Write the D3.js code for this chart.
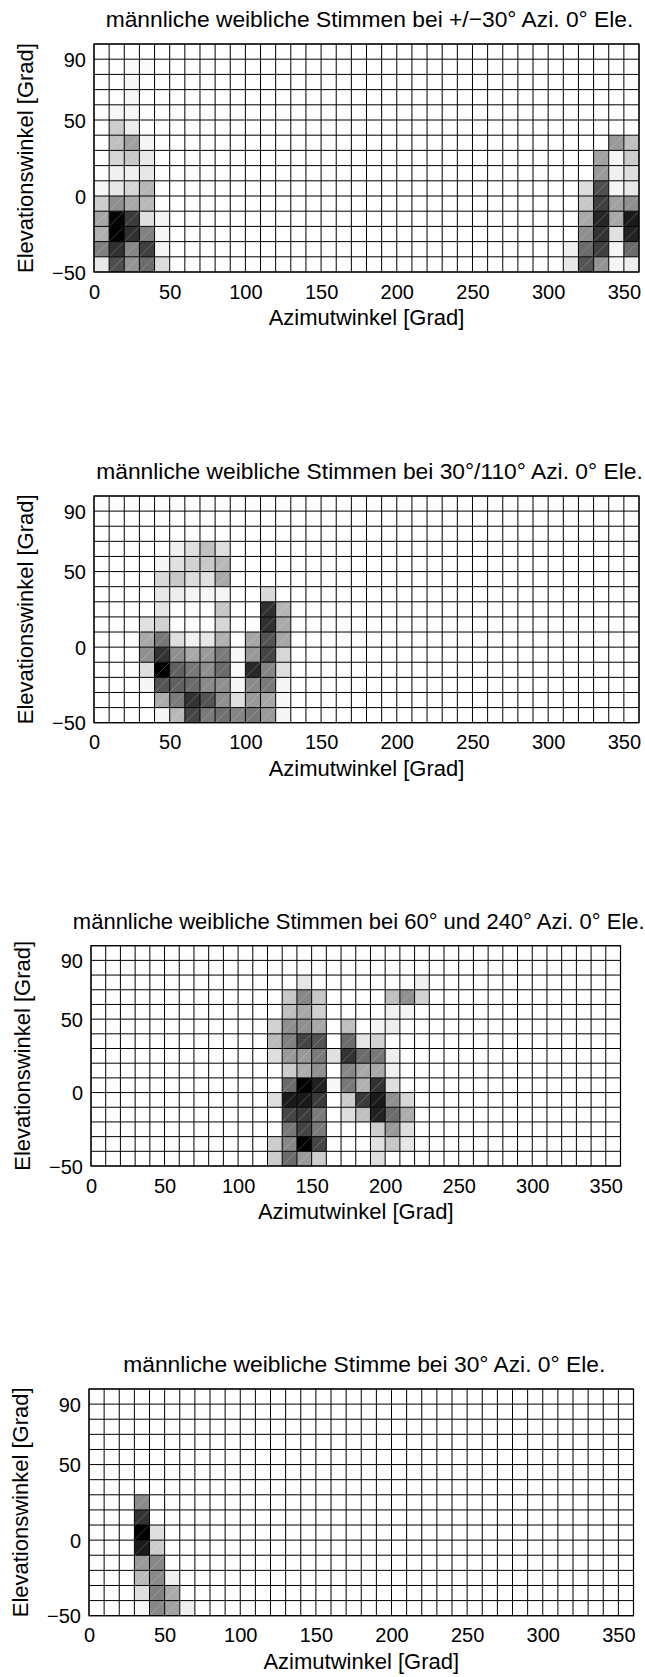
<!DOCTYPE html>
<html>
<head>
<meta charset="utf-8">
<script src="https://cdn.jsdelivr.net/npm/d3@7"></script>
<style>
  html, body { margin: 0; padding: 0; background: #fff; }
  svg { display: block; font-family: "Liberation Sans", Arial, Helvetica, sans-serif; }
</style>
</head>
<body>
<svg id="chart" width="645" height="1677"></svg>
<script>
// ---- categories (cell start angles) ----
const azimuthCells = d3.range(0, 360, 10);
const elevationCells = d3.range(-50, 100, 10);
const azimuthTicks = [0, 50, 100, 150, 200, 250, 300, 350];
const elevationTicks = [-50, 0, 50, 90];
const xLabel = "Azimutwinkel [Grad]";
const yLabel = "Elevationswinkel [Grad]";
const titles = [
  "männliche weibliche Stimmen bei +/−30° Azi. 0° Ele.",
  "männliche weibliche Stimmen bei 30°/110° Azi. 0° Ele.",
  "männliche weibliche Stimmen bei 60° und 240° Azi. 0° Ele.",
  "männliche weibliche Stimme bei 30° Azi. 0° Ele."
];

// ---- values: [azimuth, elevation, relative frequency 0..1]; unlisted cells = 0 ----
const cells1 = [
  [10,50,0.03],[20,50,0.03],[20,60,0.03],[20,70,0.03],[20,80,0.02],[30,80,0.02],
  [10,40,0.2],[20,40,0.07],
  [10,30,0.25],[20,30,0.37],[30,30,0.04],
  [10,20,0.17],[20,20,0.22],[30,20,0.09],
  [10,10,0.06],[20,10,0.06],[30,10,0.1],
  [0,0,0.03],[10,0,0.1],[20,0,0.16],[30,0,0.29],
  [0,-10,0.2],[10,-10,0.44],[20,-10,0.34],[30,-10,0.28],
  [0,-20,0.35],[10,-20,0.98],[20,-20,0.77],[30,-20,0.13],[40,-20,0.04],
  [0,-30,0.31],[10,-30,1.0],[20,-30,0.81],[30,-30,0.5],[40,-30,0.04],
  [0,-40,0.5],[10,-40,0.81],[20,-40,0.47],[30,-40,0.75],[40,-40,0.04],
  [0,-50,0.09],[10,-50,0.69],[20,-50,0.42],[30,-50,0.58],[40,-50,0.14],
  [340,30,0.4],[350,30,0.25],
  [330,20,0.37],[340,20,0.04],[350,20,0.2],
  [330,10,0.4],[340,10,0.06],[350,10,0.13],
  [320,0,0.14],[330,0,0.69],[340,0,0.04],[350,0,0.09],
  [320,-10,0.22],[330,-10,0.75],[340,-10,0.37],[350,-10,0.44],
  [320,-20,0.34],[330,-20,0.85],[340,-20,0.34],[350,-20,0.9],
  [320,-30,0.44],[330,-30,0.8],[340,-30,0.12],[350,-30,0.87],
  [310,-40,0.06],[320,-40,0.58],[330,-40,0.75],[340,-40,0.04],[350,-40,0.58],
  [310,-50,0.09],[320,-50,0.67],[330,-50,0.42],[340,-50,0.04],[350,-50,0.07]
];
const cells2 = [
  [50,60,0.06],[60,60,0.13],[70,60,0.25],[80,60,0.13],
  [40,50,0.04],[50,50,0.12],[60,50,0.18],[70,50,0.22],[80,50,0.28],
  [40,40,0.15],[50,40,0.22],[60,40,0.14],[70,40,0.12],[80,40,0.34],
  [40,30,0.1],[50,30,0.07],[60,30,0.04],[70,30,0.03],[80,30,0.04],[110,30,0.15],
  [40,20,0.1],[80,20,0.22],[110,20,0.81],[120,20,0.29],
  [30,10,0.12],[40,10,0.18],[80,10,0.16],[110,10,0.81],[120,10,0.33],
  [30,0,0.34],[40,0,0.53],[50,0,0.13],[60,0,0.06],[70,0,0.1],[80,0,0.31],[100,0,0.35],[110,0,0.67],[120,0,0.35],
  [30,-10,0.44],[40,-10,0.8],[50,-10,0.44],[60,-10,0.34],[70,-10,0.4],[80,-10,0.52],[90,-10,0.03],[100,-10,0.4],[110,-10,0.73],[120,-10,0.16],
  [30,-20,0.13],[40,-20,1.0],[50,-20,0.62],[60,-20,0.53],[70,-20,0.44],[80,-20,0.58],[90,-20,0.02],[100,-20,0.84],[110,-20,0.48],[120,-20,0.13],
  [30,-30,0.04],[40,-30,0.67],[50,-30,0.62],[60,-30,0.58],[70,-30,0.46],[80,-30,0.44],[90,-30,0.04],[100,-30,0.46],[110,-30,0.52],[120,-30,0.04],
  [40,-40,0.33],[50,-40,0.52],[60,-40,0.8],[70,-40,0.67],[80,-40,0.44],[90,-40,0.13],[100,-40,0.4],[110,-40,0.35],[120,-40,0.03],
  [40,-50,0.04],[50,-50,0.28],[60,-50,0.73],[70,-50,0.52],[80,-50,0.56],[90,-50,0.48],[100,-50,0.53],[110,-50,0.4],[120,-50,0.04]
];
const cells3 = [
  [140,70,0.1],[220,70,0.06],
  [130,60,0.22],[140,60,0.47],[150,60,0.22],[200,60,0.25],[210,60,0.44],[220,60,0.18],
  [130,50,0.25],[140,50,0.34],[150,50,0.19],[200,50,0.06],[210,50,0.04],
  [120,40,0.18],[130,40,0.44],[140,40,0.44],[150,40,0.34],[170,40,0.25],[190,40,0.04],[200,40,0.07],
  [120,30,0.27],[130,30,0.5],[140,30,0.73],[150,30,0.67],[170,30,0.58],[180,30,0.1],[190,30,0.18],
  [120,20,0.13],[130,20,0.4],[140,20,0.4],[150,20,0.52],[160,20,0.12],[170,20,0.8],[180,20,0.58],[190,20,0.53],[200,20,0.07],
  [130,10,0.2],[140,10,0.33],[150,10,0.44],[170,10,0.47],[180,10,0.34],[190,10,0.34],[200,10,0.06],
  [130,0,0.58],[140,0,1.0],[150,0,0.87],[160,0,0.03],[170,0,0.53],[180,0,0.31],[190,0,0.8],[200,0,0.13],
  [120,-10,0.13],[130,-10,0.9],[140,-10,0.9],[150,-10,0.77],[170,-10,0.2],[180,-10,0.77],[190,-10,0.9],[200,-10,0.44],[210,-10,0.16],
  [130,-20,0.73],[140,-20,0.77],[150,-20,0.52],[170,-20,0.13],[180,-20,0.25],[190,-20,0.87],[200,-20,0.58],[210,-20,0.33],
  [130,-30,0.53],[140,-30,0.73],[150,-30,0.52],[190,-30,0.2],[200,-30,0.4],[210,-30,0.13],
  [120,-40,0.2],[130,-40,0.47],[140,-40,1.0],[150,-40,0.73],[190,-40,0.12],[200,-40,0.22],[210,-40,0.1],
  [120,-50,0.2],[130,-50,0.58],[140,-50,0.4],[150,-50,0.2],[190,-50,0.13]
];
const cells4 = [
  [30,20,0.46],[30,10,0.8],[30,0,1.0],[40,0,0.13],[30,-10,0.9],[40,-10,0.2],
  [30,-20,0.4],[40,-20,0.47],[30,-30,0.27],[40,-30,0.46],[50,-30,0.06],
  [30,-40,0.13],[40,-40,0.5],[50,-40,0.33],[30,-50,0.03],[40,-50,0.47],[50,-50,0.37],[60,-50,0.07]
];

// ---- layout (pixel boxes of each axes) ----
const panels = [
  {cells: cells1, title: titles[0], left: 94, top: 44,    right: 639,   bottom: 272,    titleSize: 22.8},
  {cells: cells2, title: titles[1], left: 94, top: 496,   right: 639,   bottom: 722.7,  titleSize: 22.8},
  {cells: cells3, title: titles[2], left: 91, top: 945.7, right: 620.5, bottom: 1166,   titleSize: 22},
  {cells: cells4, title: titles[3], left: 89, top: 1389,  right: 633.5, bottom: 1615.7, titleSize: 22.8}
];

const svg = d3.select("#chart");
const gray = d3.scaleLinear().domain([0, 1]).range(["#ffffff", "#000000"]).clamp(true);

panels.forEach(p => {
  const x = d3.scaleLinear().domain([0, 360]).range([p.left, p.right]);
  const y = d3.scaleLinear().domain([-50, 100]).range([p.bottom, p.top]);
  const lookup = new Map(p.cells.map(c => [c[0] + "," + c[1], c[2]]));
  const grid = [];
  elevationCells.forEach(el => azimuthCells.forEach(az => {
    grid.push({az, el, v: lookup.get(az + "," + el) || 0});
  }));
  const g = svg.append("g");

  g.selectAll("rect.cell").data(grid).enter().append("rect")
    .attr("class", "cell")
    .attr("x", d => x(d.az))
    .attr("y", d => y(d.el + 10))
    .attr("width", d => x(d.az + 10) - x(d.az))
    .attr("height", d => y(d.el) - y(d.el + 10))
    .attr("fill", d => gray(d.v))
    .attr("stroke", "none");

  g.selectAll("line.diag").data(grid.filter(d => d.v > 0.05)).enter().append("line")
    .attr("x1", d => x(d.az)).attr("y1", d => y(d.el))
    .attr("x2", d => x(d.az + 10)).attr("y2", d => y(d.el + 10))
    .attr("stroke", "#ffffff").attr("stroke-opacity", 0.28).attr("stroke-width", 0.8);

  g.selectAll("line.v").data(d3.range(0, 370, 10)).enter().append("line")
    .attr("x1", d => x(d)).attr("x2", d => x(d))
    .attr("y1", p.top).attr("y2", p.bottom)
    .attr("stroke", "#000").attr("stroke-width", 1);
  g.selectAll("line.h").data(d3.range(-50, 110, 10)).enter().append("line")
    .attr("y1", d => y(d)).attr("y2", d => y(d))
    .attr("x1", p.left).attr("x2", p.right)
    .attr("stroke", "#000").attr("stroke-width", 1);
  g.append("rect").attr("x", p.left).attr("y", p.top)
    .attr("width", p.right - p.left).attr("height", p.bottom - p.top)
    .attr("fill", "none").attr("stroke", "#000").attr("stroke-width", 1.2);

  const xAxis = d3.axisBottom(x).tickValues(azimuthTicks).tickSize(0).tickPadding(0);
  const ax = g.append("g").attr("transform", `translate(0,${p.bottom})`).call(xAxis);
  ax.select(".domain").remove();
  ax.selectAll("text").attr("dy", null).attr("y", 26.5).attr("fill", "#000")
    .style("font-size", "20px").style("font-family", '"Liberation Sans", Arial, sans-serif');

  const yAxis = d3.axisLeft(y).tickValues(elevationTicks).tickSize(0).tickPadding(8)
    .tickFormat(d => d < 0 ? "−" + Math.abs(d) : String(d));
  const ay = g.append("g").attr("transform", `translate(${p.left},0)`).call(yAxis);
  ay.select(".domain").remove();
  ay.selectAll("text").attr("fill", "#000").attr("dy", "0.36em")
    .style("font-size", "20px").style("font-family", '"Liberation Sans", Arial, sans-serif');

  g.append("text").attr("x", (p.left + p.right) / 2).attr("y", p.bottom + 53)
    .attr("text-anchor", "middle").style("font-size", "22px").text(xLabel);
  g.append("text")
    .attr("transform", `translate(${p.left - 61.5},${(p.top + p.bottom) / 2}) rotate(-90)`)
    .attr("text-anchor", "middle").style("font-size", "22px").text(yLabel);
  g.append("text").attr("x", (p.left + p.right) / 2 + 3).attr("y", p.top - 17)
    .attr("text-anchor", "middle").style("font-size", p.titleSize + "px").text(p.title);
});
</script>
</body>
</html>
